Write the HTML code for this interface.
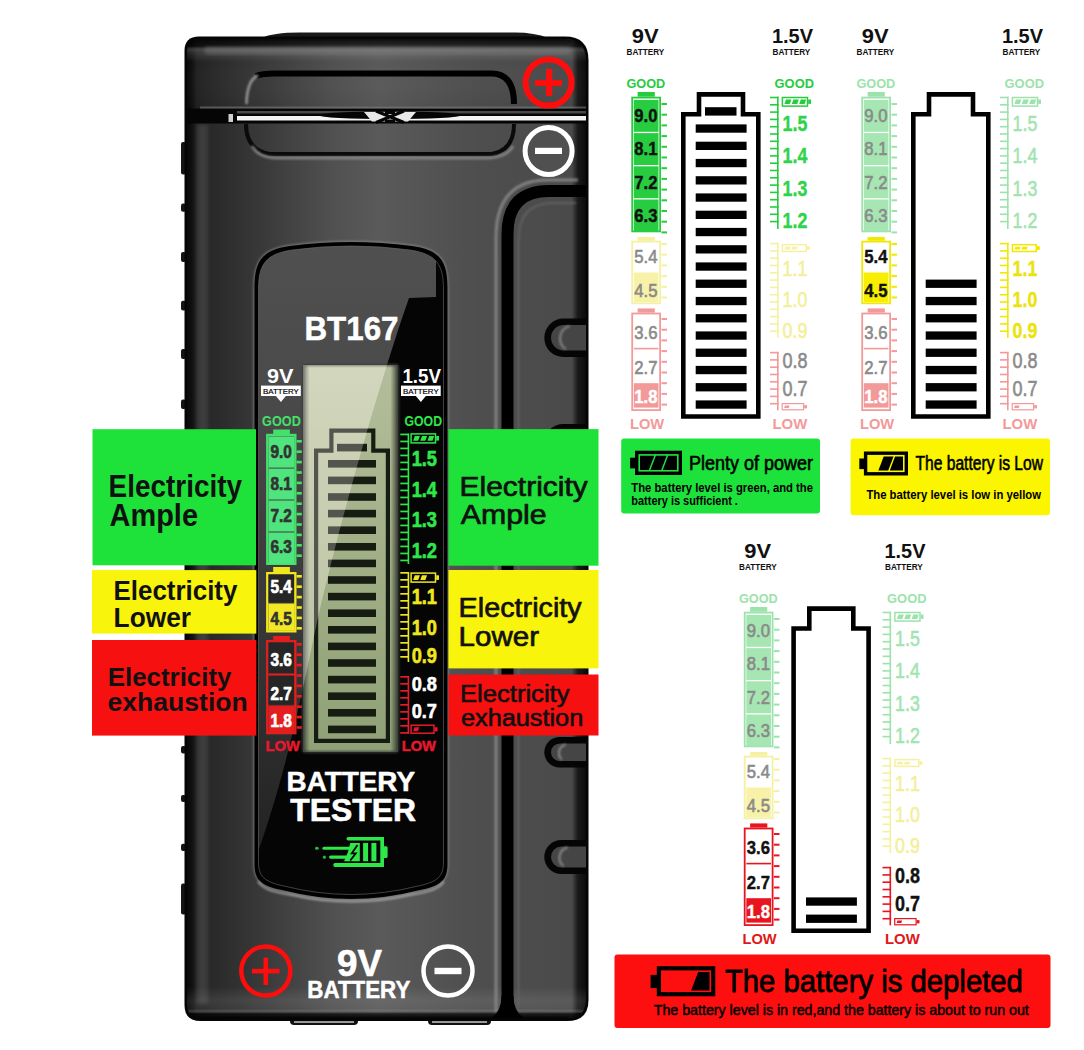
<!DOCTYPE html>
<html><head><meta charset="utf-8"><title>BT167 Battery Tester</title>
<style>html,body{margin:0;padding:0;background:#fff;}body{width:1084px;height:1050px;overflow:hidden;font-family:"Liberation Sans",sans-serif;}svg{display:block;}</style>
</head><body>
<svg width="1084" height="1050" viewBox="0 0 1084 1050" font-family="Liberation Sans, sans-serif">
<defs>
<linearGradient id="bodyH" x1="0" x2="1" y1="0" y2="0">
 <stop offset="0" stop-color="#080808"/>
 <stop offset="0.012" stop-color="#101010"/>
 <stop offset="0.025" stop-color="#222"/>
 <stop offset="0.07" stop-color="#2a2a2a"/>
 <stop offset="0.18" stop-color="#383838"/>
 <stop offset="0.36" stop-color="#505050"/>
 <stop offset="0.48" stop-color="#5a5a5a"/>
 <stop offset="0.58" stop-color="#555"/>
 <stop offset="0.73" stop-color="#4e4e4e"/>
 <stop offset="0.963" stop-color="#4a4a4a"/>
 <stop offset="0.978" stop-color="#1a1a1a"/>
 <stop offset="1" stop-color="#0a0a0a"/>
</linearGradient>
<linearGradient id="capV" x1="0" x2="0" y1="0" y2="1">
 <stop offset="0" stop-color="#000" stop-opacity="0.9"/>
 <stop offset="0.12" stop-color="#000" stop-opacity="0.5"/>
 <stop offset="0.2" stop-color="#fff" stop-opacity="0.12"/>
 <stop offset="0.35" stop-color="#fff" stop-opacity="0.0"/>
 <stop offset="1" stop-color="#000" stop-opacity="0.05"/>
</linearGradient>
<linearGradient id="botV" x1="0" x2="0" y1="0" y2="1">
 <stop offset="0" stop-color="#000" stop-opacity="0"/>
 <stop offset="0.5" stop-color="#fff" stop-opacity="0.0"/>
 <stop offset="0.72" stop-color="#fff" stop-opacity="0.09"/>
 <stop offset="0.86" stop-color="#fff" stop-opacity="0.06"/>
 <stop offset="0.93" stop-color="#000" stop-opacity="0.6"/>
 <stop offset="1" stop-color="#000" stop-opacity="0.95"/>
</linearGradient>
<linearGradient id="lcdG" x1="0" x2="0" y1="0" y2="1">
 <stop offset="0" stop-color="#c6caae"/>
 <stop offset="0.5" stop-color="#b0b994"/>
 <stop offset="1" stop-color="#9aa882"/>
</linearGradient>
<linearGradient id="lcdEdge" x1="0" x2="1" y1="0" y2="0">
 <stop offset="0" stop-color="#3a3a3a" stop-opacity="0.9"/>
 <stop offset="0.07" stop-color="#3a3a3a" stop-opacity="0.0"/>
 <stop offset="0.92" stop-color="#2a2a2a" stop-opacity="0.0"/>
 <stop offset="1" stop-color="#2a2a2a" stop-opacity="0.9"/>
</linearGradient>
<linearGradient id="dispGray" x1="0" x2="0" y1="0" y2="1">
 <stop offset="0" stop-color="#505050"/>
 <stop offset="0.25" stop-color="#4a4a4a"/>
 <stop offset="0.6" stop-color="#383838"/>
 <stop offset="1" stop-color="#222"/>
</linearGradient>
<filter id="blur1" x="-20%" y="-20%" width="140%" height="140%"><feGaussianBlur stdDeviation="1"/></filter>
<filter id="blur2" x="-20%" y="-20%" width="140%" height="140%"><feGaussianBlur stdDeviation="2"/></filter>
<filter id="blur4" x="-20%" y="-20%" width="140%" height="140%"><feGaussianBlur stdDeviation="4"/></filter>
</defs>
<rect x="0.0" y="0.0" width="1084.0" height="1050.0" fill="#fff" />
<rect x="290" y="1014" width="68" height="11" rx="4" fill="#111"/>
<rect x="294" y="1021" width="60" height="2" fill="#9a9a9a"/>
<rect x="428" y="1014" width="63" height="11" rx="4" fill="#111"/>
<rect x="432" y="1021" width="55" height="2" fill="#9a9a9a"/>
<rect x="181" y="142" width="5" height="32.5" rx="2" fill="#151515"/>
<rect x="181" y="203.6" width="5" height="8.099999999999994" rx="2" fill="#151515"/>
<rect x="181" y="252" width="5" height="10" rx="2" fill="#151515"/>
<rect x="181" y="300.8" width="5" height="9.699999999999989" rx="2" fill="#151515"/>
<rect x="181" y="349" width="5" height="10" rx="2" fill="#151515"/>
<rect x="181" y="399.5" width="5" height="9.5" rx="2" fill="#151515"/>
<rect x="181" y="746" width="5" height="7.600000000000023" rx="2" fill="#151515"/>
<rect x="181" y="795" width="5" height="7" rx="2" fill="#151515"/>
<rect x="181" y="843.7" width="5" height="7.2999999999999545" rx="2" fill="#151515"/>
<rect x="181" y="883.5" width="5" height="31.0" rx="2" fill="#151515"/>
<path d="M262,38 Q272,32.5 300,32.5 H515 Q535,32.5 548,38 Z" fill="#1a1a1a"/>
<path d="M184.5,51 Q184.5,36.5 199,36.5 H565 Q588.5,36.5 588.5,60 V1000 Q588.5,1021 567.5,1021 H200.5 Q184.5,1021 184.5,1005 Z" fill="#050505"/>
<clipPath id="bclip"><path d="M187,52 Q187,39 200,39 H564 Q586,39 586,61 V999 Q586,1018 567,1018 H201 Q187,1018 187,1004 Z"/></clipPath>
<g clip-path="url(#bclip)">
<rect x="187" y="38" width="399.5" height="980" fill="url(#bodyH)"/>
<rect x="197" y="124" width="11" height="880" fill="#6a6a6a" opacity="0.35" filter="url(#blur2)"/>
<path d="M187,38 H586 V107 H187 Z" fill="url(#capV)"/>
<rect x="205" y="47" width="365" height="7" fill="#7a7a7a" opacity="0.55" filter="url(#blur2)"/>
<rect x="187" y="955" width="399.5" height="63" fill="url(#botV)"/>
<path d="M256,76 Q262,73.5 275,73.5 H492 Q514,74 514,104" fill="none" stroke="#000" stroke-width="6"/>
<path d="M258,75.5 Q247,80 246.5,104" fill="none" stroke="#9a9a9a" stroke-width="2.5" filter="url(#blur1)"/>
<path d="M246,124 Q246,150 270,154 H492 Q514,150 514,124" fill="none" stroke="#0a0a0a" stroke-width="4"/>
<path d="M252,146 Q258,157 275,158 H490 Q508,156 513,146" fill="none" stroke="#8a8a8a" stroke-width="2.5" filter="url(#blur1)"/>
<rect x="185.0" y="108.5" width="404.0" height="15.0" fill="#050505" />
<rect x="200.0" y="106.5" width="386.0" height="2.0" fill="#7a7a7a" opacity="0.6"/>
<rect x="237.0" y="116.0" width="352.0" height="4.5" fill="#f4f4f4" />
<rect x="237.0" y="111.0" width="352.0" height="2.5" fill="#5a5a5a" opacity="0.8"/>
<ellipse cx="390" cy="115.2" rx="71.5" ry="3.8" fill="#050505"/>
<path d="M364,112 H416 L408,121.5 H372 Z" fill="#e8e8e8"/>
<path d="M376,111 L404,122.5 M404,111 L376,122.5" stroke="#050505" stroke-width="3"/>
<rect x="385.0" y="111.0" width="10.0" height="3.0" fill="#050505" />
<rect x="385.0" y="119.5" width="10.0" height="3.0" fill="#050505" />
<rect x="228.5" y="114.0" width="4.5" height="8.0" fill="#cfcfcf" />
<circle cx="548.6" cy="82.5" r="23" fill="none" stroke="#ff0d0d" stroke-width="6"/>
<rect x="535.0" y="80.1" width="27.0" height="5.8" fill="#ff0d0d" />
<rect x="546.0" y="69.0" width="6.3" height="27.0" fill="#ff0d0d" />
<circle cx="548.6" cy="151" r="23.5" fill="#505050" stroke="#fff" stroke-width="5"/>
<rect x="535.0" y="147.8" width="27.0" height="6.2" fill="#fff" />
<path d="M496,1012 V238 Q496,180 548,180 H578" fill="none" stroke="#8c8c8c" stroke-width="3" opacity="0.85" filter="url(#blur1)"/>
<path d="M507.5,1019 V234 Q507.5,191 549,191 H587" fill="none" stroke="#000" stroke-width="12"/>
<path d="M518.5,1008 V240 Q518.5,203 553,203 H576" fill="none" stroke="#666" stroke-width="2" opacity="0.8" filter="url(#blur1)"/>
<path d="M589,318.6 H563.5 A19.2,19.2 0 0 0 563.5,357 H589 Z" fill="#050505"/>
<path d="M589,325.1 H563.7 A12.7,12.7 0 0 0 563.7,350.5 H589 Z" fill="#454545"/>
<path d="M569.7,326.1 A12.7,12.7 0 0 0 565.7,349 " fill="none" stroke="#8a8a8a" stroke-width="2" filter="url(#blur1)"/>
<polygon points="587,318.1 590,318.1 590,322.6" fill="#fff"/>
<polygon points="587,357.5 590,357.5 590,353" fill="#fff"/>
<path d="M589,424 H563.3 A19.0,19.0 0 0 0 563.3,462 H589 Z" fill="#050505"/>
<path d="M589,430.5 H563.5 A12.5,12.5 0 0 0 563.5,455.5 H589 Z" fill="#454545"/>
<path d="M569.5,431.5 A12.5,12.5 0 0 0 565.5,454 " fill="none" stroke="#8a8a8a" stroke-width="2" filter="url(#blur1)"/>
<polygon points="587,423.5 590,423.5 590,428" fill="#fff"/>
<polygon points="587,462.5 590,462.5 590,458" fill="#fff"/>
<path d="M589,737 H559.6 A15.3,15.3 0 0 0 559.6,767.6 H589 Z" fill="#050505"/>
<path d="M589,743.5 H559.8 A8.8,8.8 0 0 0 559.8,761.1 H589 Z" fill="#454545"/>
<path d="M565.8,744.5 A8.8,8.8 0 0 0 561.8,759.6 " fill="none" stroke="#8a8a8a" stroke-width="2" filter="url(#blur1)"/>
<polygon points="587,736.5 590,736.5 590,741" fill="#fff"/>
<polygon points="587,768.1 590,768.1 590,763.6" fill="#fff"/>
<path d="M589,840 H561.3 A17.0,17.0 0 0 0 561.3,874 H589 Z" fill="#050505"/>
<path d="M589,846.5 H561.5 A10.5,10.5 0 0 0 561.5,867.5 H589 Z" fill="#454545"/>
<path d="M567.5,847.5 A10.5,10.5 0 0 0 563.5,866 " fill="none" stroke="#8a8a8a" stroke-width="2" filter="url(#blur1)"/>
<polygon points="587,839.5 590,839.5 590,844" fill="#fff"/>
<polygon points="587,874.5 590,874.5 590,870" fill="#fff"/>
<path d="M501.5,996 Q501.5,1012 490,1019 H525 Q513.5,1012 513.5,996 Z" fill="#000"/>
</g>
<circle cx="265.8" cy="971" r="24.5" fill="none" stroke="#ff0d0d" stroke-width="4.5"/>
<rect x="252.0" y="968.8" width="27.5" height="4.6" fill="#ff0d0d" />
<rect x="263.5" y="957.5" width="4.6" height="27.5" fill="#ff0d0d" />
<circle cx="448" cy="971" r="24.5" fill="none" stroke="#fff" stroke-width="4.5"/>
<rect x="434.5" y="967.8" width="27.0" height="6.4" fill="#fff" />
<text x="337.0" y="975.5" font-size="36" fill="#fff" stroke="#fff" stroke-width="0.6" stroke-linejoin="round" font-weight="bold" textLength="45.0" lengthAdjust="spacingAndGlyphs">9V</text>
<text x="307.3" y="998.0" font-size="23" fill="#fff" stroke="#fff" stroke-width="0.5" stroke-linejoin="round" font-weight="bold" textLength="103.0" lengthAdjust="spacingAndGlyphs">BATTERY</text>
<path d="M254.5,288 C254.5,262 261,250 290,246 Q351,238 412,246 C441,250 447.5,262 447.5,288 V864 C447.5,880 441,886 420,890 Q351,908 282,890 C261,886 254.5,880 254.5,864 Z" fill="none" stroke="#8a8a8a" stroke-width="2.5" opacity="0.7" filter="url(#blur1)"/>
<path d="M254.5,288 C254.5,262 261,250 290,246 Q351,238 412,246 C441,250 447.5,262 447.5,288 V864 C447.5,880 441,886 420,890 Q351,908 282,890 C261,886 254.5,880 254.5,864 Z" fill="#000"/>
<clipPath id="dclip"><path d="M258.5,290 C258.5,265 265,254 292,250 Q351,242 410,250 C437,254 443.5,265 443.5,290 V862 C443.5,876 438,882 418,886 Q351,903 284,886 C264,882 258.5,876 258.5,862 Z"/></clipPath>
<g clip-path="url(#dclip)">
<rect x="250" y="240" width="200" height="670" fill="#050505"/>
<path d="M250,240 H436 V297 L409,298 C385,365 340,520 317,622 C305,680 285,780 255,860 H250 Z" fill="url(#dispGray)"/>
</g>
<path d="M258.5,290 C258.5,265 265,254 292,250 Q351,242 410,250 C437,254 443.5,265 443.5,290 V862 C443.5,876 438,882 418,886 Q351,903 284,886 C264,882 258.5,876 258.5,862 Z" fill="none" stroke="#6a6a6a" stroke-width="1" opacity="0.6"/>
<path d="M258,880 C264,888 272,890 290,893 Q351,907 412,893 C430,890 438,888 444,880" fill="none" stroke="#b5b5b5" stroke-width="2" opacity="0.85" transform="translate(0,1.5)" filter="url(#blur1)"/>
<rect x="303" y="365" width="95" height="387" fill="url(#lcdG)"/>
<rect x="303" y="365" width="95" height="387" fill="url(#lcdEdge)"/>
<rect x="303" y="365" width="95" height="387" rx="3" fill="none" stroke="#3a3a3a" stroke-width="2" filter="url(#blur1)"/>
<clipPath id="lclip"><rect x="303" y="365" width="95" height="387"/></clipPath>
<g clip-path="url(#lclip)">
<path d="M316.1,740.8 V450.7 H331.4 V430.7 H373.3 V450.7 H387.9 V740.8 Z" fill="none" stroke="#0a0a0a" stroke-width="4.2"/>
<rect x="337.0" y="443.8" width="30.0" height="7.6" fill="#0a0a0a" />
<rect x="328.0" y="460.0" width="48.0" height="7.6" fill="#0a0a0a" />
<rect x="328.0" y="476.6" width="48.0" height="7.6" fill="#0a0a0a" />
<rect x="328.0" y="493.2" width="48.0" height="7.6" fill="#0a0a0a" />
<rect x="328.0" y="509.8" width="48.0" height="7.6" fill="#0a0a0a" />
<rect x="328.0" y="526.4" width="48.0" height="7.6" fill="#0a0a0a" />
<rect x="328.0" y="543.0" width="48.0" height="7.6" fill="#0a0a0a" />
<rect x="328.0" y="559.6" width="48.0" height="7.6" fill="#0a0a0a" />
<rect x="328.0" y="576.2" width="48.0" height="7.6" fill="#0a0a0a" />
<rect x="328.0" y="592.8" width="48.0" height="7.6" fill="#0a0a0a" />
<rect x="328.0" y="609.4" width="48.0" height="7.6" fill="#0a0a0a" />
<rect x="328.0" y="626.0" width="48.0" height="7.6" fill="#0a0a0a" />
<rect x="328.0" y="642.6" width="48.0" height="7.6" fill="#0a0a0a" />
<rect x="328.0" y="659.2" width="48.0" height="7.6" fill="#0a0a0a" />
<rect x="328.0" y="675.8" width="48.0" height="7.6" fill="#0a0a0a" />
<rect x="328.0" y="692.4" width="48.0" height="7.6" fill="#0a0a0a" />
<rect x="328.0" y="709.0" width="48.0" height="7.6" fill="#0a0a0a" />
<rect x="328.0" y="725.6" width="48.0" height="7.6" fill="#0a0a0a" />
<path d="M300,298 L409,298 C385,365 340,520 317,622 C305,680 285,780 255,860 H300 Z" fill="#eef0de" opacity="0.33"/>
<path d="M409,298 C385,365 340,520 317,622 C305,680 285,780 255,860 H400 V298 Z" fill="#5a7a40" opacity="0.16"/>
</g>
<text x="304.5" y="339.5" font-size="32.5" fill="#fff" stroke="#fff" stroke-width="0.5" stroke-linejoin="round" font-weight="bold" textLength="94.0" lengthAdjust="spacingAndGlyphs">BT167</text>
<text x="267.0" y="382.5" font-size="20" fill="#fff" font-weight="bold" textLength="26.5" lengthAdjust="spacingAndGlyphs">9V</text>
<text x="402.4" y="382.5" font-size="20" fill="#fff" font-weight="bold" textLength="38.6" lengthAdjust="spacingAndGlyphs">1.5V</text>
<rect x="261.0" y="385.6" width="39.8" height="10.4" fill="#fff" />
<polygon points="275.9,396 285.9,396 280.9,402" fill="#fff"/>
<text x="263.0" y="394.3" font-size="8" fill="#000" stroke="#000" stroke-width="0.2" stroke-linejoin="round" textLength="35.8" lengthAdjust="spacingAndGlyphs">BATTERY</text>
<rect x="401.0" y="385.6" width="39.7" height="10.4" fill="#fff" />
<polygon points="415.85,396 425.85,396 420.85,402" fill="#fff"/>
<text x="403.0" y="394.3" font-size="8" fill="#000" stroke="#000" stroke-width="0.2" stroke-linejoin="round" textLength="35.7" lengthAdjust="spacingAndGlyphs">BATTERY</text>
<text x="262.0" y="426.0" font-size="14" fill="#45e06a" font-weight="bold" textLength="38.8" lengthAdjust="spacingAndGlyphs">GOOD</text>
<text x="404.5" y="426.0" font-size="14" fill="#2ee84a" font-weight="bold" textLength="37.5" lengthAdjust="spacingAndGlyphs">GOOD</text>
<rect x="273.2" y="429.5" width="16.7" height="5.3" fill="#45e06a" />
<rect x="267.3" y="435.0" width="28" height="128.8" fill="none" stroke="#45e06a" stroke-width="2.4"/>
<rect x="268.5" y="436.5" width="25.6" height="31.1" fill="#4fe47e" />
<text x="270.4" y="457.6" font-size="18" fill="#333" stroke="#333" stroke-width="0.7" stroke-linejoin="round" font-weight="bold" textLength="21.4" lengthAdjust="spacingAndGlyphs">9.0</text>
<rect x="268.5" y="468.6" width="25.6" height="30.9" fill="#4fe47e" />
<text x="270.4" y="489.8" font-size="18" fill="#333" stroke="#333" stroke-width="0.7" stroke-linejoin="round" font-weight="bold" textLength="21.4" lengthAdjust="spacingAndGlyphs">8.1</text>
<rect x="268.5" y="500.5" width="25.6" height="31.0" fill="#4fe47e" />
<text x="270.4" y="521.8" font-size="18" fill="#333" stroke="#333" stroke-width="0.7" stroke-linejoin="round" font-weight="bold" textLength="21.4" lengthAdjust="spacingAndGlyphs">7.2</text>
<rect x="268.5" y="532.5" width="25.6" height="31.0" fill="#4fe47e" />
<text x="270.4" y="553.0" font-size="18" fill="#333" stroke="#333" stroke-width="0.7" stroke-linejoin="round" font-weight="bold" textLength="21.4" lengthAdjust="spacingAndGlyphs">6.3</text>
<rect x="296.6" y="440.0" width="5.2" height="2.6" fill="#45e06a" />
<rect x="296.6" y="450.4" width="5.2" height="2.6" fill="#45e06a" />
<rect x="296.6" y="460.8" width="5.2" height="2.6" fill="#45e06a" />
<rect x="296.6" y="471.2" width="5.2" height="2.6" fill="#45e06a" />
<rect x="296.6" y="481.6" width="5.2" height="2.6" fill="#45e06a" />
<rect x="296.6" y="492.0" width="5.2" height="2.6" fill="#45e06a" />
<rect x="296.6" y="502.4" width="5.2" height="2.6" fill="#45e06a" />
<rect x="296.6" y="512.8" width="5.2" height="2.6" fill="#45e06a" />
<rect x="296.6" y="523.2" width="5.2" height="2.6" fill="#45e06a" />
<rect x="296.6" y="533.6" width="5.2" height="2.6" fill="#45e06a" />
<rect x="296.6" y="544.0" width="5.2" height="2.6" fill="#45e06a" />
<rect x="296.6" y="554.4" width="5.2" height="2.6" fill="#45e06a" />
<rect x="273.2" y="567.0" width="16.7" height="6.0" fill="#f0e61e" />
<rect x="267.3" y="573.2" width="28" height="58.1" fill="none" stroke="#f0e61e" stroke-width="2.4"/>
<rect x="268.5" y="574.5" width="25.6" height="28.0" fill="#262626" />
<text x="270.4" y="593.0" font-size="18" fill="#fff" stroke="#fff" stroke-width="0.7" stroke-linejoin="round" font-weight="bold" textLength="21.4" lengthAdjust="spacingAndGlyphs">5.4</text>
<rect x="268.5" y="603.5" width="25.6" height="26.5" fill="#f2e826" />
<text x="270.4" y="625.0" font-size="18" fill="#333" stroke="#333" stroke-width="0.7" stroke-linejoin="round" font-weight="bold" textLength="21.4" lengthAdjust="spacingAndGlyphs">4.5</text>
<rect x="296.6" y="575.0" width="5.2" height="2.6" fill="#f0e61e" />
<rect x="296.6" y="585.4" width="5.2" height="2.6" fill="#f0e61e" />
<rect x="296.6" y="595.8" width="5.2" height="2.6" fill="#f0e61e" />
<rect x="296.6" y="606.2" width="5.2" height="2.6" fill="#f0e61e" />
<rect x="296.6" y="616.6" width="5.2" height="2.6" fill="#f0e61e" />
<rect x="296.6" y="627.0" width="5.2" height="2.6" fill="#f0e61e" />
<rect x="273.2" y="636.0" width="16.7" height="5.0" fill="#e41e1e" />
<rect x="267.3" y="641.2" width="28" height="91.9" fill="none" stroke="#e41e1e" stroke-width="2.4"/>
<rect x="268.5" y="642.5" width="25.6" height="31.0" fill="#262626" />
<text x="270.4" y="666.0" font-size="18" fill="#fff" stroke="#fff" stroke-width="0.7" stroke-linejoin="round" font-weight="bold" textLength="21.4" lengthAdjust="spacingAndGlyphs">3.6</text>
<rect x="268.5" y="675.5" width="25.6" height="29.0" fill="#262626" />
<text x="270.4" y="699.5" font-size="18" fill="#fff" stroke="#fff" stroke-width="0.7" stroke-linejoin="round" font-weight="bold" textLength="21.4" lengthAdjust="spacingAndGlyphs">2.7</text>
<rect x="268.5" y="705.5" width="25.6" height="26.5" fill="#e41e1e" />
<text x="270.4" y="727.0" font-size="18" fill="#fff" stroke="#fff" stroke-width="0.7" stroke-linejoin="round" font-weight="bold" textLength="21.4" lengthAdjust="spacingAndGlyphs">1.8</text>
<rect x="296.6" y="643.0" width="5.2" height="2.6" fill="#e41e1e" />
<rect x="296.6" y="653.4" width="5.2" height="2.6" fill="#e41e1e" />
<rect x="296.6" y="663.8" width="5.2" height="2.6" fill="#e41e1e" />
<rect x="296.6" y="674.2" width="5.2" height="2.6" fill="#e41e1e" />
<rect x="296.6" y="684.6" width="5.2" height="2.6" fill="#e41e1e" />
<rect x="296.6" y="695.0" width="5.2" height="2.6" fill="#e41e1e" />
<rect x="296.6" y="705.4" width="5.2" height="2.6" fill="#e41e1e" />
<rect x="296.6" y="715.8" width="5.2" height="2.6" fill="#e41e1e" />
<rect x="296.6" y="726.2" width="5.2" height="2.6" fill="#e41e1e" />
<rect x="268.5" y="673.5" width="25.6" height="2.0" fill="#e41e1e" />
<text x="265.5" y="751.4" font-size="14.5" fill="#e8192c" stroke="#e8192c" stroke-width="0.5" stroke-linejoin="round" font-weight="bold" textLength="34.3" lengthAdjust="spacingAndGlyphs">LOW</text>
<rect x="407.6" y="433.6" width="1.6" height="130.4" fill="#2ee84a"/>
<rect x="400.3" y="433.6" width="8.7" height="1.7" fill="#2ee84a" />
<rect x="400.3" y="440.6" width="8.7" height="1.7" fill="#2ee84a" />
<rect x="400.3" y="447.6" width="8.7" height="1.7" fill="#2ee84a" />
<rect x="400.3" y="454.6" width="8.7" height="1.7" fill="#2ee84a" />
<rect x="400.3" y="461.6" width="8.7" height="1.7" fill="#2ee84a" />
<rect x="400.3" y="468.6" width="8.7" height="1.7" fill="#2ee84a" />
<rect x="400.3" y="475.6" width="8.7" height="1.7" fill="#2ee84a" />
<rect x="400.3" y="482.6" width="8.7" height="1.7" fill="#2ee84a" />
<rect x="400.3" y="489.6" width="8.7" height="1.7" fill="#2ee84a" />
<rect x="400.3" y="496.6" width="8.7" height="1.7" fill="#2ee84a" />
<rect x="400.3" y="503.6" width="8.7" height="1.7" fill="#2ee84a" />
<rect x="400.3" y="510.6" width="8.7" height="1.7" fill="#2ee84a" />
<rect x="400.3" y="517.6" width="8.7" height="1.7" fill="#2ee84a" />
<rect x="400.3" y="524.6" width="8.7" height="1.7" fill="#2ee84a" />
<rect x="400.3" y="531.6" width="8.7" height="1.7" fill="#2ee84a" />
<rect x="400.3" y="538.6" width="8.7" height="1.7" fill="#2ee84a" />
<rect x="400.3" y="545.6" width="8.7" height="1.7" fill="#2ee84a" />
<rect x="400.3" y="552.6" width="8.7" height="1.7" fill="#2ee84a" />
<rect x="400.3" y="559.6" width="8.7" height="1.7" fill="#2ee84a" />
<rect x="411.1" y="433.9" width="24.4" height="9.0" fill="none" stroke="#2ee84a" stroke-width="1.5"/>
<rect x="436.2" y="436.0" width="2.8" height="4.6" fill="#2ee84a" />
<polygon points="414.81,435.90 419.92,435.90 418.21,440.80 413.10,440.80" fill="#2ee84a"/>
<polygon points="421.98,435.90 427.09,435.90 425.38,440.80 420.27,440.80" fill="#2ee84a"/>
<polygon points="429.15,435.90 434.26,435.90 432.54,440.80 427.43,440.80" fill="#2ee84a"/>
<text x="411.7" y="466.4" font-size="21.5" fill="#2ee84a" stroke="#2ee84a" stroke-width="0.6" stroke-linejoin="round" font-weight="bold" textLength="25.3" lengthAdjust="spacingAndGlyphs">1.5</text>
<text x="411.7" y="496.9" font-size="21.5" fill="#2ee84a" stroke="#2ee84a" stroke-width="0.6" stroke-linejoin="round" font-weight="bold" textLength="25.3" lengthAdjust="spacingAndGlyphs">1.4</text>
<text x="411.7" y="527.4" font-size="21.5" fill="#2ee84a" stroke="#2ee84a" stroke-width="0.6" stroke-linejoin="round" font-weight="bold" textLength="25.3" lengthAdjust="spacingAndGlyphs">1.3</text>
<text x="411.7" y="557.9" font-size="21.5" fill="#2ee84a" stroke="#2ee84a" stroke-width="0.6" stroke-linejoin="round" font-weight="bold" textLength="25.3" lengthAdjust="spacingAndGlyphs">1.2</text>
<rect x="407.6" y="572" width="1.6" height="90.0" fill="#f0e620"/>
<rect x="400.3" y="572.0" width="8.7" height="1.7" fill="#f0e620" />
<rect x="400.3" y="579.0" width="8.7" height="1.7" fill="#f0e620" />
<rect x="400.3" y="586.0" width="8.7" height="1.7" fill="#f0e620" />
<rect x="400.3" y="593.0" width="8.7" height="1.7" fill="#f0e620" />
<rect x="400.3" y="600.0" width="8.7" height="1.7" fill="#f0e620" />
<rect x="400.3" y="607.0" width="8.7" height="1.7" fill="#f0e620" />
<rect x="400.3" y="614.0" width="8.7" height="1.7" fill="#f0e620" />
<rect x="400.3" y="621.0" width="8.7" height="1.7" fill="#f0e620" />
<rect x="400.3" y="628.0" width="8.7" height="1.7" fill="#f0e620" />
<rect x="400.3" y="635.0" width="8.7" height="1.7" fill="#f0e620" />
<rect x="400.3" y="642.0" width="8.7" height="1.7" fill="#f0e620" />
<rect x="400.3" y="649.0" width="8.7" height="1.7" fill="#f0e620" />
<rect x="400.3" y="656.0" width="8.7" height="1.7" fill="#f0e620" />
<rect x="411.1" y="573.1" width="24.4" height="9.0" fill="none" stroke="#f0e620" stroke-width="1.5"/>
<rect x="436.2" y="575.3" width="2.8" height="4.6" fill="#f0e620" />
<polygon points="414.82,575.20 419.92,575.20 418.21,580.10 413.10,580.10" fill="#f0e620"/>
<polygon points="421.98,575.20 427.09,575.20 425.38,580.10 420.27,580.10" fill="#f0e620"/>
<text x="411.7" y="603.8" font-size="21.5" fill="#f0e620" stroke="#f0e620" stroke-width="0.6" stroke-linejoin="round" font-weight="bold" textLength="25.3" lengthAdjust="spacingAndGlyphs">1.1</text>
<text x="411.7" y="635.2" font-size="21.5" fill="#f0e620" stroke="#f0e620" stroke-width="0.6" stroke-linejoin="round" font-weight="bold" textLength="25.3" lengthAdjust="spacingAndGlyphs">1.0</text>
<text x="411.7" y="662.9" font-size="21.5" fill="#f0e620" stroke="#f0e620" stroke-width="0.6" stroke-linejoin="round" font-weight="bold" textLength="25.3" lengthAdjust="spacingAndGlyphs">0.9</text>
<rect x="407.6" y="676" width="1.6" height="58.0" fill="#e8192c"/>
<rect x="400.3" y="676.0" width="8.7" height="1.7" fill="#e8192c" />
<rect x="400.3" y="683.0" width="8.7" height="1.7" fill="#e8192c" />
<rect x="400.3" y="690.0" width="8.7" height="1.7" fill="#e8192c" />
<rect x="400.3" y="697.0" width="8.7" height="1.7" fill="#e8192c" />
<rect x="400.3" y="704.0" width="8.7" height="1.7" fill="#e8192c" />
<rect x="400.3" y="711.0" width="8.7" height="1.7" fill="#e8192c" />
<rect x="400.3" y="718.0" width="8.7" height="1.7" fill="#e8192c" />
<rect x="400.3" y="725.0" width="8.7" height="1.7" fill="#e8192c" />
<rect x="400.3" y="732.0" width="8.7" height="1.7" fill="#e8192c" />
<rect x="411.1" y="725.2" width="22.9" height="8.0" fill="none" stroke="#e8192c" stroke-width="1.5"/>
<rect x="434.7" y="727.2" width="2.8" height="4.2" fill="#e8192c" />
<polygon points="414.47,727.30 419.25,727.30 417.88,731.20 413.10,731.20" fill="#e8192c"/>
<text x="411.7" y="690.5" font-size="20" fill="#fff" stroke="#fff" stroke-width="0.6" stroke-linejoin="round" font-weight="bold" textLength="25.3" lengthAdjust="spacingAndGlyphs">0.8</text>
<text x="411.7" y="718.0" font-size="20" fill="#fff" stroke="#fff" stroke-width="0.6" stroke-linejoin="round" font-weight="bold" textLength="25.3" lengthAdjust="spacingAndGlyphs">0.7</text>
<text x="401.7" y="751.4" font-size="14.5" fill="#e8192c" stroke="#e8192c" stroke-width="0.5" stroke-linejoin="round" font-weight="bold" textLength="34.3" lengthAdjust="spacingAndGlyphs">LOW</text>
<text x="286.5" y="790.7" font-size="28" fill="#fff" stroke="#fff" stroke-width="0.5" stroke-linejoin="round" font-weight="bold" textLength="128.5" lengthAdjust="spacingAndGlyphs">BATTERY</text>
<text x="290.3" y="821.2" font-size="31" fill="#fff" stroke="#fff" stroke-width="0.6" stroke-linejoin="round" font-weight="bold" textLength="125.7" lengthAdjust="spacingAndGlyphs">TESTER</text>
<rect x="346.5" y="837" width="37.5" height="3.5" rx="1.7" fill="#2ee84a"/>
<rect x="380.3" y="837.0" width="3.7" height="30.0" fill="#2ee84a" />
<rect x="383" y="846.3" width="4.6" height="11.7" rx="1.5" fill="#2ee84a"/>
<rect x="333.2" y="863" width="50.8" height="4" rx="2" fill="#2ee84a"/>
<polygon points="350.3,843 359.8,843 359.8,861.2 344,861.2 348,852" fill="#2ee84a"/>
<path d="M357.5,845 L351.8,853.3 L355.8,853.3 L350.3,860.5" fill="none" stroke="#000" stroke-width="1.8"/>
<rect x="363.1" y="843.0" width="5.0" height="18.2" fill="#2ee84a" />
<rect x="371.4" y="843.0" width="5.0" height="18.2" fill="#2ee84a" />
<rect x="322.4" y="846.7" width="29" height="3" rx="1.5" fill="#2ee84a"/>
<rect x="315" y="846.7" width="3.7" height="3" rx="1.5" fill="#2ee84a" opacity="0.8"/>
<rect x="329" y="855.4" width="19.2" height="3.3" rx="1.6" fill="#2ee84a"/>
<rect x="322.9" y="855.4" width="3" height="3.3" rx="1.5" fill="#2ee84a" opacity="0.8"/>
<rect x="92.5" y="429.2" width="163.5" height="136.1" fill="#1ee23a" />
<rect x="92.0" y="570.1" width="164.3" height="63.5" fill="#f9f40c" />
<rect x="92.0" y="640.0" width="164.3" height="95.6" fill="#f61010" />
<rect x="448.5" y="429.1" width="150.0" height="136.6" fill="#1ee23a" />
<rect x="448.5" y="570.0" width="150.0" height="98.4" fill="#f9f40c" />
<rect x="448.5" y="674.5" width="150.0" height="61.0" fill="#f61010" />
<text x="108.6" y="496.7" font-size="31" fill="#111" font-weight="bold" textLength="133.4" lengthAdjust="spacingAndGlyphs">Electricity</text>
<text x="109.5" y="526.3" font-size="31" fill="#111" font-weight="bold" textLength="88.5" lengthAdjust="spacingAndGlyphs">Ample</text>
<text x="113.6" y="600.1" font-size="27" fill="#111" font-weight="bold" textLength="123.8" lengthAdjust="spacingAndGlyphs">Electricity</text>
<text x="113.6" y="626.7" font-size="27" fill="#111" font-weight="bold" textLength="77.4" lengthAdjust="spacingAndGlyphs">Lower</text>
<text x="107.8" y="685.9" font-size="25" fill="#111" font-weight="bold" textLength="123.6" lengthAdjust="spacingAndGlyphs">Electricity</text>
<text x="107.6" y="710.7" font-size="25" fill="#111" font-weight="bold" textLength="140.1" lengthAdjust="spacingAndGlyphs">exhaustion</text>
<text x="459.5" y="496.2" font-size="27.5" fill="#111" stroke="#111" stroke-width="0.7" stroke-linejoin="round" textLength="128.3" lengthAdjust="spacingAndGlyphs">Electricity</text>
<text x="460.8" y="523.6" font-size="27.5" fill="#111" stroke="#111" stroke-width="0.7" stroke-linejoin="round" textLength="85.9" lengthAdjust="spacingAndGlyphs">Ample</text>
<text x="458.6" y="616.6" font-size="27.5" fill="#111" stroke="#111" stroke-width="0.7" stroke-linejoin="round" textLength="123.1" lengthAdjust="spacingAndGlyphs">Electricity</text>
<text x="458.6" y="645.5" font-size="27.5" fill="#111" stroke="#111" stroke-width="0.7" stroke-linejoin="round" textLength="80.4" lengthAdjust="spacingAndGlyphs">Lower</text>
<text x="460.0" y="702.0" font-size="23" fill="#111" stroke="#111" stroke-width="0.6" stroke-linejoin="round" textLength="109.5" lengthAdjust="spacingAndGlyphs">Electricity</text>
<text x="461.0" y="726.3" font-size="23" fill="#111" stroke="#111" stroke-width="0.6" stroke-linejoin="round" textLength="122.2" lengthAdjust="spacingAndGlyphs">exhaustion</text>
<text x="631.8" y="42.7" font-size="20.5" fill="#111" font-weight="bold" textLength="26.8" lengthAdjust="spacingAndGlyphs">9V</text>
<text x="626.5" y="55.2" font-size="9" fill="#111" font-weight="bold" textLength="37.7" lengthAdjust="spacingAndGlyphs">BATTERY</text>
<text x="772.0" y="42.7" font-size="20.5" fill="#111" font-weight="bold" textLength="41.0" lengthAdjust="spacingAndGlyphs">1.5V</text>
<text x="772.5" y="55.2" font-size="9" fill="#111" font-weight="bold" textLength="37.8" lengthAdjust="spacingAndGlyphs">BATTERY</text>
<text x="626.5" y="87.9" font-size="12.5" fill="#25cc3e" font-weight="bold" textLength="38.8" lengthAdjust="spacingAndGlyphs">GOOD</text>
<text x="774.6" y="87.9" font-size="12.5" fill="#25cc3e" font-weight="bold" textLength="39.4" lengthAdjust="spacingAndGlyphs">GOOD</text>
<rect x="637.6" y="92.0" width="17.2" height="4.7" fill="#25cc3e" />
<rect x="632.2" y="97.6" width="27.9" height="133.8" fill="none" stroke="#25cc3e" stroke-width="1.8"/>
<rect x="633.8" y="99.9" width="24.7" height="31.9" fill="#27cc40" />
<text x="634.3" y="122.1" font-size="17.5" fill="#111" stroke="#111" stroke-width="0.4" stroke-linejoin="round" font-weight="bold" textLength="23.2" lengthAdjust="spacingAndGlyphs">9.0</text>
<rect x="633.8" y="133.1" width="24.7" height="31.9" fill="#27cc40" />
<text x="634.3" y="155.3" font-size="17.5" fill="#111" stroke="#111" stroke-width="0.4" stroke-linejoin="round" font-weight="bold" textLength="23.2" lengthAdjust="spacingAndGlyphs">8.1</text>
<rect x="633.8" y="166.3" width="24.7" height="31.9" fill="#27cc40" />
<text x="634.3" y="188.5" font-size="17.5" fill="#111" stroke="#111" stroke-width="0.4" stroke-linejoin="round" font-weight="bold" textLength="23.2" lengthAdjust="spacingAndGlyphs">7.2</text>
<rect x="633.8" y="199.5" width="24.7" height="31.9" fill="#27cc40" />
<text x="634.3" y="221.7" font-size="17.5" fill="#111" stroke="#111" stroke-width="0.4" stroke-linejoin="round" font-weight="bold" textLength="23.2" lengthAdjust="spacingAndGlyphs">6.3</text>
<rect x="661.5" y="103.0" width="5.5" height="2.0" fill="#25cc3e" />
<rect x="661.5" y="113.7" width="5.5" height="2.0" fill="#25cc3e" />
<rect x="661.5" y="124.4" width="5.5" height="2.0" fill="#25cc3e" />
<rect x="661.5" y="135.1" width="5.5" height="2.0" fill="#25cc3e" />
<rect x="661.5" y="145.8" width="5.5" height="2.0" fill="#25cc3e" />
<rect x="661.5" y="156.5" width="5.5" height="2.0" fill="#25cc3e" />
<rect x="661.5" y="167.2" width="5.5" height="2.0" fill="#25cc3e" />
<rect x="661.5" y="177.9" width="5.5" height="2.0" fill="#25cc3e" />
<rect x="661.5" y="188.6" width="5.5" height="2.0" fill="#25cc3e" />
<rect x="661.5" y="199.3" width="5.5" height="2.0" fill="#25cc3e" />
<rect x="661.5" y="210.0" width="5.5" height="2.0" fill="#25cc3e" />
<rect x="661.5" y="220.7" width="5.5" height="2.0" fill="#25cc3e" />
<rect x="661.5" y="231.4" width="5.5" height="2.0" fill="#25cc3e" />
<rect x="637.6" y="237.0" width="17.2" height="3.7" fill="#f5f1a0" />
<rect x="632.2" y="241.6" width="27.9" height="61.7" fill="none" stroke="#f5f1a0" stroke-width="1.8"/>
<rect x="633.8" y="272.5" width="24.7" height="29.5" fill="#f7f2a8" />
<text x="634.3" y="263.4" font-size="17.5" fill="#8a8a8a" stroke="#8a8a8a" stroke-width="0.6" stroke-linejoin="round" textLength="23.2" lengthAdjust="spacingAndGlyphs">5.4</text>
<text x="634.3" y="296.6" font-size="17.5" fill="#8a8a8a" stroke="#8a8a8a" stroke-width="0.6" stroke-linejoin="round" textLength="23.2" lengthAdjust="spacingAndGlyphs">4.5</text>
<rect x="661.5" y="243.0" width="5.5" height="2.0" fill="#f5f1a0" />
<rect x="661.5" y="253.7" width="5.5" height="2.0" fill="#f5f1a0" />
<rect x="661.5" y="264.4" width="5.5" height="2.0" fill="#f5f1a0" />
<rect x="661.5" y="275.1" width="5.5" height="2.0" fill="#f5f1a0" />
<rect x="661.5" y="285.8" width="5.5" height="2.0" fill="#f5f1a0" />
<rect x="661.5" y="296.5" width="5.5" height="2.0" fill="#f5f1a0" />
<rect x="637.6" y="308.4" width="17.2" height="4.2" fill="#f29a9a" />
<rect x="632.2" y="313.5" width="27.9" height="96.6" fill="none" stroke="#f29a9a" stroke-width="1.8"/>
<rect x="633.8" y="347.8" width="24.7" height="1.6" fill="#f29a9a" />
<rect x="633.8" y="383.2" width="24.7" height="24.4" fill="#f29a9a" />
<text x="634.3" y="338.8" font-size="17.5" fill="#8a8a8a" stroke="#8a8a8a" stroke-width="0.6" stroke-linejoin="round" textLength="23.2" lengthAdjust="spacingAndGlyphs">3.6</text>
<text x="634.3" y="373.8" font-size="17.5" fill="#8a8a8a" stroke="#8a8a8a" stroke-width="0.6" stroke-linejoin="round" textLength="23.2" lengthAdjust="spacingAndGlyphs">2.7</text>
<text x="634.3" y="402.6" font-size="17.5" fill="#fff" stroke="#fff" stroke-width="0.4" stroke-linejoin="round" font-weight="bold" textLength="23.2" lengthAdjust="spacingAndGlyphs">1.8</text>
<rect x="661.5" y="318.0" width="5.5" height="2.0" fill="#f29a9a" />
<rect x="661.5" y="328.7" width="5.5" height="2.0" fill="#f29a9a" />
<rect x="661.5" y="339.4" width="5.5" height="2.0" fill="#f29a9a" />
<rect x="661.5" y="350.1" width="5.5" height="2.0" fill="#f29a9a" />
<rect x="661.5" y="360.8" width="5.5" height="2.0" fill="#f29a9a" />
<rect x="661.5" y="371.5" width="5.5" height="2.0" fill="#f29a9a" />
<rect x="661.5" y="382.2" width="5.5" height="2.0" fill="#f29a9a" />
<rect x="661.5" y="392.9" width="5.5" height="2.0" fill="#f29a9a" />
<rect x="661.5" y="403.6" width="5.5" height="2.0" fill="#f29a9a" />
<text x="630.0" y="429.3" font-size="14.5" fill="#f29a9a" font-weight="bold" textLength="34.2" lengthAdjust="spacingAndGlyphs">LOW</text>
<path d="M683.3,416.5 V114.3 H699 V94.4 H743 V114.3 H758.3 V416.5 Z" fill="none" stroke="#000" stroke-width="4.6"/>
<rect x="705.0" y="107.2" width="31.5" height="8.4" fill="#000" />
<rect x="695.7" y="124.4" width="50.9" height="8.3" fill="#000" />
<rect x="695.7" y="141.7" width="50.9" height="8.3" fill="#000" />
<rect x="695.7" y="158.9" width="50.9" height="8.3" fill="#000" />
<rect x="695.7" y="176.2" width="50.9" height="8.3" fill="#000" />
<rect x="695.7" y="193.4" width="50.9" height="8.3" fill="#000" />
<rect x="695.7" y="210.7" width="50.9" height="8.3" fill="#000" />
<rect x="695.7" y="227.9" width="50.9" height="8.3" fill="#000" />
<rect x="695.7" y="245.2" width="50.9" height="8.3" fill="#000" />
<rect x="695.7" y="262.4" width="50.9" height="8.3" fill="#000" />
<rect x="695.7" y="279.6" width="50.9" height="8.3" fill="#000" />
<rect x="695.7" y="296.9" width="50.9" height="8.3" fill="#000" />
<rect x="695.7" y="314.1" width="50.9" height="8.3" fill="#000" />
<rect x="695.7" y="331.4" width="50.9" height="8.3" fill="#000" />
<rect x="695.7" y="348.6" width="50.9" height="8.3" fill="#000" />
<rect x="695.7" y="365.9" width="50.9" height="8.3" fill="#000" />
<rect x="695.7" y="383.1" width="50.9" height="8.3" fill="#000" />
<rect x="695.7" y="400.4" width="50.9" height="8.3" fill="#000" />
<rect x="777.0" y="96.7" width="1.6" height="132.3" fill="#25cc3e" />
<rect x="770.0" y="96.7" width="8.6" height="1.6" fill="#25cc3e" />
<rect x="770.0" y="104.0" width="8.6" height="1.6" fill="#25cc3e" />
<rect x="770.0" y="111.3" width="8.6" height="1.6" fill="#25cc3e" />
<rect x="770.0" y="118.6" width="8.6" height="1.6" fill="#25cc3e" />
<rect x="770.0" y="125.9" width="8.6" height="1.6" fill="#25cc3e" />
<rect x="770.0" y="133.2" width="8.6" height="1.6" fill="#25cc3e" />
<rect x="770.0" y="140.5" width="8.6" height="1.6" fill="#25cc3e" />
<rect x="770.0" y="147.8" width="8.6" height="1.6" fill="#25cc3e" />
<rect x="770.0" y="155.1" width="8.6" height="1.6" fill="#25cc3e" />
<rect x="770.0" y="162.4" width="8.6" height="1.6" fill="#25cc3e" />
<rect x="770.0" y="169.7" width="8.6" height="1.6" fill="#25cc3e" />
<rect x="770.0" y="177.0" width="8.6" height="1.6" fill="#25cc3e" />
<rect x="770.0" y="184.3" width="8.6" height="1.6" fill="#25cc3e" />
<rect x="770.0" y="191.6" width="8.6" height="1.6" fill="#25cc3e" />
<rect x="770.0" y="198.9" width="8.6" height="1.6" fill="#25cc3e" />
<rect x="770.0" y="206.2" width="8.6" height="1.6" fill="#25cc3e" />
<rect x="770.0" y="213.5" width="8.6" height="1.6" fill="#25cc3e" />
<rect x="770.0" y="220.8" width="8.6" height="1.6" fill="#25cc3e" />
<rect x="782.4" y="97.5" width="25.1" height="8.6" fill="none" stroke="#25cc3e" stroke-width="1.5"/>
<rect x="808.2" y="99.5" width="2.8" height="4.4" fill="#25cc3e" />
<polygon points="785.98,99.50 791.39,99.50 789.81,104.00 784.40,104.00" fill="#25cc3e"/>
<polygon points="793.38,99.50 798.79,99.50 797.21,104.00 791.80,104.00" fill="#25cc3e"/>
<polygon points="800.78,99.50 806.19,99.50 804.61,104.00 799.20,104.00" fill="#25cc3e"/>
<text x="782.6" y="131.0" font-size="22" fill="#2fd34a" stroke="#2fd34a" stroke-width="0.4" stroke-linejoin="round" font-weight="bold" textLength="24.7" lengthAdjust="spacingAndGlyphs">1.5</text>
<text x="782.6" y="163.4" font-size="22" fill="#2fd34a" stroke="#2fd34a" stroke-width="0.4" stroke-linejoin="round" font-weight="bold" textLength="24.7" lengthAdjust="spacingAndGlyphs">1.4</text>
<text x="782.6" y="195.8" font-size="22" fill="#2fd34a" stroke="#2fd34a" stroke-width="0.4" stroke-linejoin="round" font-weight="bold" textLength="24.7" lengthAdjust="spacingAndGlyphs">1.3</text>
<text x="782.6" y="228.2" font-size="22" fill="#2fd34a" stroke="#2fd34a" stroke-width="0.4" stroke-linejoin="round" font-weight="bold" textLength="24.7" lengthAdjust="spacingAndGlyphs">1.2</text>
<rect x="777.0" y="242.8" width="1.6" height="95.2" fill="#f5f1a0" />
<rect x="770.0" y="242.8" width="8.6" height="1.6" fill="#f5f1a0" />
<rect x="770.0" y="250.1" width="8.6" height="1.6" fill="#f5f1a0" />
<rect x="770.0" y="257.4" width="8.6" height="1.6" fill="#f5f1a0" />
<rect x="770.0" y="264.7" width="8.6" height="1.6" fill="#f5f1a0" />
<rect x="770.0" y="272.0" width="8.6" height="1.6" fill="#f5f1a0" />
<rect x="770.0" y="279.3" width="8.6" height="1.6" fill="#f5f1a0" />
<rect x="770.0" y="286.6" width="8.6" height="1.6" fill="#f5f1a0" />
<rect x="770.0" y="293.9" width="8.6" height="1.6" fill="#f5f1a0" />
<rect x="770.0" y="301.2" width="8.6" height="1.6" fill="#f5f1a0" />
<rect x="770.0" y="308.5" width="8.6" height="1.6" fill="#f5f1a0" />
<rect x="770.0" y="315.8" width="8.6" height="1.6" fill="#f5f1a0" />
<rect x="770.0" y="323.1" width="8.6" height="1.6" fill="#f5f1a0" />
<rect x="770.0" y="330.4" width="8.6" height="1.6" fill="#f5f1a0" />
<rect x="782.4" y="244.7" width="23.9" height="6.8" fill="none" stroke="#f5f1a0" stroke-width="1.5"/>
<rect x="807.0" y="246.2" width="2.8" height="3.7" fill="#f5f1a0" />
<polygon points="785.34,246.70 790.67,246.70 789.73,249.40 784.40,249.40" fill="#f5f1a0"/>
<polygon points="792.34,246.70 797.67,246.70 796.73,249.40 791.40,249.40" fill="#f5f1a0"/>
<text x="782.6" y="275.6" font-size="22" fill="#f3ef9a" stroke="#f3ef9a" stroke-width="0.6" stroke-linejoin="round" textLength="24.7" lengthAdjust="spacingAndGlyphs">1.1</text>
<text x="782.6" y="307.0" font-size="22" fill="#f3ef9a" stroke="#f3ef9a" stroke-width="0.6" stroke-linejoin="round" textLength="24.7" lengthAdjust="spacingAndGlyphs">1.0</text>
<text x="782.6" y="338.3" font-size="22" fill="#f3ef9a" stroke="#f3ef9a" stroke-width="0.6" stroke-linejoin="round" textLength="24.7" lengthAdjust="spacingAndGlyphs">0.9</text>
<rect x="777.0" y="351.8" width="1.6" height="58.6" fill="#f29a9a" />
<rect x="770.0" y="351.8" width="8.6" height="1.6" fill="#f29a9a" />
<rect x="770.0" y="359.1" width="8.6" height="1.6" fill="#f29a9a" />
<rect x="770.0" y="366.4" width="8.6" height="1.6" fill="#f29a9a" />
<rect x="770.0" y="373.7" width="8.6" height="1.6" fill="#f29a9a" />
<rect x="770.0" y="381.0" width="8.6" height="1.6" fill="#f29a9a" />
<rect x="770.0" y="388.3" width="8.6" height="1.6" fill="#f29a9a" />
<rect x="770.0" y="395.6" width="8.6" height="1.6" fill="#f29a9a" />
<rect x="770.0" y="402.9" width="8.6" height="1.6" fill="#f29a9a" />
<rect x="782.2" y="403.6" width="21.4" height="6.2" fill="none" stroke="#f29a9a" stroke-width="1.2"/>
<rect x="804.2" y="405.1" width="2.8" height="3.3" fill="#f29a9a" />
<polygon points="784.94,405.50 789.59,405.50 788.75,407.90 784.10,407.90" fill="#f29a9a"/>
<text x="782.6" y="367.5" font-size="22" fill="#8a8a8a" stroke="#8a8a8a" stroke-width="0.6" stroke-linejoin="round" textLength="25.0" lengthAdjust="spacingAndGlyphs">0.8</text>
<text x="782.6" y="395.8" font-size="22" fill="#8a8a8a" stroke="#8a8a8a" stroke-width="0.6" stroke-linejoin="round" textLength="25.0" lengthAdjust="spacingAndGlyphs">0.7</text>
<text x="772.5" y="429.3" font-size="14.5" fill="#f29a9a" font-weight="bold" textLength="34.8" lengthAdjust="spacingAndGlyphs">LOW</text>
<text x="861.8" y="42.7" font-size="20.5" fill="#111" font-weight="bold" textLength="26.8" lengthAdjust="spacingAndGlyphs">9V</text>
<text x="856.5" y="55.2" font-size="9" fill="#111" font-weight="bold" textLength="37.7" lengthAdjust="spacingAndGlyphs">BATTERY</text>
<text x="1002.0" y="42.7" font-size="20.5" fill="#111" font-weight="bold" textLength="41.0" lengthAdjust="spacingAndGlyphs">1.5V</text>
<text x="1002.5" y="55.2" font-size="9" fill="#111" font-weight="bold" textLength="37.8" lengthAdjust="spacingAndGlyphs">BATTERY</text>
<text x="856.5" y="87.9" font-size="12.5" fill="#9be3aa" font-weight="bold" textLength="38.8" lengthAdjust="spacingAndGlyphs">GOOD</text>
<text x="1004.6" y="87.9" font-size="12.5" fill="#9be3aa" font-weight="bold" textLength="39.4" lengthAdjust="spacingAndGlyphs">GOOD</text>
<rect x="867.6" y="92.0" width="17.2" height="4.7" fill="#9be3aa" />
<rect x="862.2" y="97.6" width="27.9" height="133.8" fill="none" stroke="#9be3aa" stroke-width="1.8"/>
<rect x="863.8" y="99.9" width="24.7" height="31.9" fill="#a6e6b3" />
<text x="864.3" y="122.1" font-size="17.5" fill="#8a8a8a" stroke="#8a8a8a" stroke-width="0.6" stroke-linejoin="round" textLength="23.2" lengthAdjust="spacingAndGlyphs">9.0</text>
<rect x="863.8" y="133.1" width="24.7" height="31.9" fill="#a6e6b3" />
<text x="864.3" y="155.3" font-size="17.5" fill="#8a8a8a" stroke="#8a8a8a" stroke-width="0.6" stroke-linejoin="round" textLength="23.2" lengthAdjust="spacingAndGlyphs">8.1</text>
<rect x="863.8" y="166.3" width="24.7" height="31.9" fill="#a6e6b3" />
<text x="864.3" y="188.5" font-size="17.5" fill="#8a8a8a" stroke="#8a8a8a" stroke-width="0.6" stroke-linejoin="round" textLength="23.2" lengthAdjust="spacingAndGlyphs">7.2</text>
<rect x="863.8" y="199.5" width="24.7" height="31.9" fill="#a6e6b3" />
<text x="864.3" y="221.7" font-size="17.5" fill="#8a8a8a" stroke="#8a8a8a" stroke-width="0.6" stroke-linejoin="round" textLength="23.2" lengthAdjust="spacingAndGlyphs">6.3</text>
<rect x="891.5" y="103.0" width="5.5" height="2.0" fill="#9be3aa" />
<rect x="891.5" y="113.7" width="5.5" height="2.0" fill="#9be3aa" />
<rect x="891.5" y="124.4" width="5.5" height="2.0" fill="#9be3aa" />
<rect x="891.5" y="135.1" width="5.5" height="2.0" fill="#9be3aa" />
<rect x="891.5" y="145.8" width="5.5" height="2.0" fill="#9be3aa" />
<rect x="891.5" y="156.5" width="5.5" height="2.0" fill="#9be3aa" />
<rect x="891.5" y="167.2" width="5.5" height="2.0" fill="#9be3aa" />
<rect x="891.5" y="177.9" width="5.5" height="2.0" fill="#9be3aa" />
<rect x="891.5" y="188.6" width="5.5" height="2.0" fill="#9be3aa" />
<rect x="891.5" y="199.3" width="5.5" height="2.0" fill="#9be3aa" />
<rect x="891.5" y="210.0" width="5.5" height="2.0" fill="#9be3aa" />
<rect x="891.5" y="220.7" width="5.5" height="2.0" fill="#9be3aa" />
<rect x="891.5" y="231.4" width="5.5" height="2.0" fill="#9be3aa" />
<rect x="867.6" y="237.0" width="17.2" height="3.7" fill="#f0e800" />
<rect x="862.2" y="241.6" width="27.9" height="61.7" fill="none" stroke="#f0e800" stroke-width="1.8"/>
<rect x="863.8" y="272.5" width="24.7" height="29.5" fill="#f8ee00" />
<text x="864.3" y="263.4" font-size="17.5" fill="#111" stroke="#111" stroke-width="0.4" stroke-linejoin="round" font-weight="bold" textLength="23.2" lengthAdjust="spacingAndGlyphs">5.4</text>
<text x="864.3" y="296.6" font-size="17.5" fill="#111" stroke="#111" stroke-width="0.4" stroke-linejoin="round" font-weight="bold" textLength="23.2" lengthAdjust="spacingAndGlyphs">4.5</text>
<rect x="891.5" y="243.0" width="5.5" height="2.0" fill="#f0e800" />
<rect x="891.5" y="253.7" width="5.5" height="2.0" fill="#f0e800" />
<rect x="891.5" y="264.4" width="5.5" height="2.0" fill="#f0e800" />
<rect x="891.5" y="275.1" width="5.5" height="2.0" fill="#f0e800" />
<rect x="891.5" y="285.8" width="5.5" height="2.0" fill="#f0e800" />
<rect x="891.5" y="296.5" width="5.5" height="2.0" fill="#f0e800" />
<rect x="867.6" y="308.4" width="17.2" height="4.2" fill="#f29a9a" />
<rect x="862.2" y="313.5" width="27.9" height="96.6" fill="none" stroke="#f29a9a" stroke-width="1.8"/>
<rect x="863.8" y="347.8" width="24.7" height="1.6" fill="#f29a9a" />
<rect x="863.8" y="383.2" width="24.7" height="24.4" fill="#f29a9a" />
<text x="864.3" y="338.8" font-size="17.5" fill="#8a8a8a" stroke="#8a8a8a" stroke-width="0.6" stroke-linejoin="round" textLength="23.2" lengthAdjust="spacingAndGlyphs">3.6</text>
<text x="864.3" y="373.8" font-size="17.5" fill="#8a8a8a" stroke="#8a8a8a" stroke-width="0.6" stroke-linejoin="round" textLength="23.2" lengthAdjust="spacingAndGlyphs">2.7</text>
<text x="864.3" y="402.6" font-size="17.5" fill="#fff" stroke="#fff" stroke-width="0.4" stroke-linejoin="round" font-weight="bold" textLength="23.2" lengthAdjust="spacingAndGlyphs">1.8</text>
<rect x="891.5" y="318.0" width="5.5" height="2.0" fill="#f29a9a" />
<rect x="891.5" y="328.7" width="5.5" height="2.0" fill="#f29a9a" />
<rect x="891.5" y="339.4" width="5.5" height="2.0" fill="#f29a9a" />
<rect x="891.5" y="350.1" width="5.5" height="2.0" fill="#f29a9a" />
<rect x="891.5" y="360.8" width="5.5" height="2.0" fill="#f29a9a" />
<rect x="891.5" y="371.5" width="5.5" height="2.0" fill="#f29a9a" />
<rect x="891.5" y="382.2" width="5.5" height="2.0" fill="#f29a9a" />
<rect x="891.5" y="392.9" width="5.5" height="2.0" fill="#f29a9a" />
<rect x="891.5" y="403.6" width="5.5" height="2.0" fill="#f29a9a" />
<text x="860.0" y="429.3" font-size="14.5" fill="#f29a9a" font-weight="bold" textLength="34.2" lengthAdjust="spacingAndGlyphs">LOW</text>
<path d="M913.3,416.5 V114.3 H929 V94.4 H973 V114.3 H988.3 V416.5 Z" fill="none" stroke="#000" stroke-width="4.6"/>
<rect x="925.7" y="279.6" width="50.9" height="8.3" fill="#000" />
<rect x="925.7" y="296.9" width="50.9" height="8.3" fill="#000" />
<rect x="925.7" y="314.1" width="50.9" height="8.3" fill="#000" />
<rect x="925.7" y="331.4" width="50.9" height="8.3" fill="#000" />
<rect x="925.7" y="348.6" width="50.9" height="8.3" fill="#000" />
<rect x="925.7" y="365.9" width="50.9" height="8.3" fill="#000" />
<rect x="925.7" y="383.1" width="50.9" height="8.3" fill="#000" />
<rect x="925.7" y="400.4" width="50.9" height="8.3" fill="#000" />
<rect x="1007.0" y="96.7" width="1.6" height="132.3" fill="#9be3aa" />
<rect x="1000.0" y="96.7" width="8.6" height="1.6" fill="#9be3aa" />
<rect x="1000.0" y="104.0" width="8.6" height="1.6" fill="#9be3aa" />
<rect x="1000.0" y="111.3" width="8.6" height="1.6" fill="#9be3aa" />
<rect x="1000.0" y="118.6" width="8.6" height="1.6" fill="#9be3aa" />
<rect x="1000.0" y="125.9" width="8.6" height="1.6" fill="#9be3aa" />
<rect x="1000.0" y="133.2" width="8.6" height="1.6" fill="#9be3aa" />
<rect x="1000.0" y="140.5" width="8.6" height="1.6" fill="#9be3aa" />
<rect x="1000.0" y="147.8" width="8.6" height="1.6" fill="#9be3aa" />
<rect x="1000.0" y="155.1" width="8.6" height="1.6" fill="#9be3aa" />
<rect x="1000.0" y="162.4" width="8.6" height="1.6" fill="#9be3aa" />
<rect x="1000.0" y="169.7" width="8.6" height="1.6" fill="#9be3aa" />
<rect x="1000.0" y="177.0" width="8.6" height="1.6" fill="#9be3aa" />
<rect x="1000.0" y="184.3" width="8.6" height="1.6" fill="#9be3aa" />
<rect x="1000.0" y="191.6" width="8.6" height="1.6" fill="#9be3aa" />
<rect x="1000.0" y="198.9" width="8.6" height="1.6" fill="#9be3aa" />
<rect x="1000.0" y="206.2" width="8.6" height="1.6" fill="#9be3aa" />
<rect x="1000.0" y="213.5" width="8.6" height="1.6" fill="#9be3aa" />
<rect x="1000.0" y="220.8" width="8.6" height="1.6" fill="#9be3aa" />
<rect x="1012.4" y="97.5" width="25.1" height="8.6" fill="none" stroke="#9be3aa" stroke-width="1.5"/>
<rect x="1038.2" y="99.5" width="2.8" height="4.4" fill="#9be3aa" />
<polygon points="1015.98,99.50 1021.39,99.50 1019.81,104.00 1014.40,104.00" fill="#9be3aa"/>
<polygon points="1023.38,99.50 1028.79,99.50 1027.21,104.00 1021.80,104.00" fill="#9be3aa"/>
<polygon points="1030.78,99.50 1036.19,99.50 1034.61,104.00 1029.20,104.00" fill="#9be3aa"/>
<text x="1012.6" y="131.0" font-size="22" fill="#a2e4b0" stroke="#a2e4b0" stroke-width="0.6" stroke-linejoin="round" textLength="24.7" lengthAdjust="spacingAndGlyphs">1.5</text>
<text x="1012.6" y="163.4" font-size="22" fill="#a2e4b0" stroke="#a2e4b0" stroke-width="0.6" stroke-linejoin="round" textLength="24.7" lengthAdjust="spacingAndGlyphs">1.4</text>
<text x="1012.6" y="195.8" font-size="22" fill="#a2e4b0" stroke="#a2e4b0" stroke-width="0.6" stroke-linejoin="round" textLength="24.7" lengthAdjust="spacingAndGlyphs">1.3</text>
<text x="1012.6" y="228.2" font-size="22" fill="#a2e4b0" stroke="#a2e4b0" stroke-width="0.6" stroke-linejoin="round" textLength="24.7" lengthAdjust="spacingAndGlyphs">1.2</text>
<rect x="1007.0" y="242.8" width="1.6" height="95.2" fill="#f0e800" />
<rect x="1000.0" y="242.8" width="8.6" height="1.6" fill="#f0e800" />
<rect x="1000.0" y="250.1" width="8.6" height="1.6" fill="#f0e800" />
<rect x="1000.0" y="257.4" width="8.6" height="1.6" fill="#f0e800" />
<rect x="1000.0" y="264.7" width="8.6" height="1.6" fill="#f0e800" />
<rect x="1000.0" y="272.0" width="8.6" height="1.6" fill="#f0e800" />
<rect x="1000.0" y="279.3" width="8.6" height="1.6" fill="#f0e800" />
<rect x="1000.0" y="286.6" width="8.6" height="1.6" fill="#f0e800" />
<rect x="1000.0" y="293.9" width="8.6" height="1.6" fill="#f0e800" />
<rect x="1000.0" y="301.2" width="8.6" height="1.6" fill="#f0e800" />
<rect x="1000.0" y="308.5" width="8.6" height="1.6" fill="#f0e800" />
<rect x="1000.0" y="315.8" width="8.6" height="1.6" fill="#f0e800" />
<rect x="1000.0" y="323.1" width="8.6" height="1.6" fill="#f0e800" />
<rect x="1000.0" y="330.4" width="8.6" height="1.6" fill="#f0e800" />
<rect x="1012.4" y="244.7" width="23.9" height="6.8" fill="none" stroke="#f0e800" stroke-width="1.5"/>
<rect x="1037.0" y="246.2" width="2.8" height="3.7" fill="#f0e800" />
<polygon points="1015.34,246.70 1020.67,246.70 1019.73,249.40 1014.40,249.40" fill="#f0e800"/>
<polygon points="1022.34,246.70 1027.67,246.70 1026.73,249.40 1021.40,249.40" fill="#f0e800"/>
<text x="1012.6" y="275.6" font-size="22" fill="#ebe30c" stroke="#ebe30c" stroke-width="0.4" stroke-linejoin="round" font-weight="bold" textLength="24.7" lengthAdjust="spacingAndGlyphs">1.1</text>
<text x="1012.6" y="307.0" font-size="22" fill="#ebe30c" stroke="#ebe30c" stroke-width="0.4" stroke-linejoin="round" font-weight="bold" textLength="24.7" lengthAdjust="spacingAndGlyphs">1.0</text>
<text x="1012.6" y="338.3" font-size="22" fill="#ebe30c" stroke="#ebe30c" stroke-width="0.4" stroke-linejoin="round" font-weight="bold" textLength="24.7" lengthAdjust="spacingAndGlyphs">0.9</text>
<rect x="1007.0" y="351.8" width="1.6" height="58.6" fill="#f29a9a" />
<rect x="1000.0" y="351.8" width="8.6" height="1.6" fill="#f29a9a" />
<rect x="1000.0" y="359.1" width="8.6" height="1.6" fill="#f29a9a" />
<rect x="1000.0" y="366.4" width="8.6" height="1.6" fill="#f29a9a" />
<rect x="1000.0" y="373.7" width="8.6" height="1.6" fill="#f29a9a" />
<rect x="1000.0" y="381.0" width="8.6" height="1.6" fill="#f29a9a" />
<rect x="1000.0" y="388.3" width="8.6" height="1.6" fill="#f29a9a" />
<rect x="1000.0" y="395.6" width="8.6" height="1.6" fill="#f29a9a" />
<rect x="1000.0" y="402.9" width="8.6" height="1.6" fill="#f29a9a" />
<rect x="1012.2" y="403.6" width="21.4" height="6.2" fill="none" stroke="#f29a9a" stroke-width="1.2"/>
<rect x="1034.2" y="405.1" width="2.8" height="3.3" fill="#f29a9a" />
<polygon points="1014.94,405.50 1019.59,405.50 1018.75,407.90 1014.10,407.90" fill="#f29a9a"/>
<text x="1012.6" y="367.5" font-size="22" fill="#8a8a8a" stroke="#8a8a8a" stroke-width="0.6" stroke-linejoin="round" textLength="25.0" lengthAdjust="spacingAndGlyphs">0.8</text>
<text x="1012.6" y="395.8" font-size="22" fill="#8a8a8a" stroke="#8a8a8a" stroke-width="0.6" stroke-linejoin="round" textLength="25.0" lengthAdjust="spacingAndGlyphs">0.7</text>
<text x="1002.5" y="429.3" font-size="14.5" fill="#f29a9a" font-weight="bold" textLength="34.8" lengthAdjust="spacingAndGlyphs">LOW</text>
<text x="744.3" y="557.7" font-size="20.5" fill="#111" font-weight="bold" textLength="26.8" lengthAdjust="spacingAndGlyphs">9V</text>
<text x="739.0" y="570.2" font-size="9" fill="#111" font-weight="bold" textLength="37.7" lengthAdjust="spacingAndGlyphs">BATTERY</text>
<text x="884.5" y="557.7" font-size="20.5" fill="#111" font-weight="bold" textLength="41.0" lengthAdjust="spacingAndGlyphs">1.5V</text>
<text x="885.0" y="570.2" font-size="9" fill="#111" font-weight="bold" textLength="37.8" lengthAdjust="spacingAndGlyphs">BATTERY</text>
<text x="739.0" y="602.9" font-size="12.5" fill="#9be3aa" font-weight="bold" textLength="38.8" lengthAdjust="spacingAndGlyphs">GOOD</text>
<text x="887.1" y="602.9" font-size="12.5" fill="#9be3aa" font-weight="bold" textLength="39.4" lengthAdjust="spacingAndGlyphs">GOOD</text>
<rect x="750.1" y="607.0" width="17.2" height="4.7" fill="#9be3aa" />
<rect x="744.7" y="612.6" width="27.9" height="133.8" fill="none" stroke="#9be3aa" stroke-width="1.8"/>
<rect x="746.3" y="614.9" width="24.7" height="31.9" fill="#a6e6b3" />
<text x="746.8" y="637.1" font-size="17.5" fill="#8a8a8a" stroke="#8a8a8a" stroke-width="0.6" stroke-linejoin="round" textLength="23.2" lengthAdjust="spacingAndGlyphs">9.0</text>
<rect x="746.3" y="648.1" width="24.7" height="31.9" fill="#a6e6b3" />
<text x="746.8" y="670.3" font-size="17.5" fill="#8a8a8a" stroke="#8a8a8a" stroke-width="0.6" stroke-linejoin="round" textLength="23.2" lengthAdjust="spacingAndGlyphs">8.1</text>
<rect x="746.3" y="681.3" width="24.7" height="31.9" fill="#a6e6b3" />
<text x="746.8" y="703.5" font-size="17.5" fill="#8a8a8a" stroke="#8a8a8a" stroke-width="0.6" stroke-linejoin="round" textLength="23.2" lengthAdjust="spacingAndGlyphs">7.2</text>
<rect x="746.3" y="714.5" width="24.7" height="31.9" fill="#a6e6b3" />
<text x="746.8" y="736.7" font-size="17.5" fill="#8a8a8a" stroke="#8a8a8a" stroke-width="0.6" stroke-linejoin="round" textLength="23.2" lengthAdjust="spacingAndGlyphs">6.3</text>
<rect x="774.0" y="618.0" width="5.5" height="2.0" fill="#9be3aa" />
<rect x="774.0" y="628.7" width="5.5" height="2.0" fill="#9be3aa" />
<rect x="774.0" y="639.4" width="5.5" height="2.0" fill="#9be3aa" />
<rect x="774.0" y="650.1" width="5.5" height="2.0" fill="#9be3aa" />
<rect x="774.0" y="660.8" width="5.5" height="2.0" fill="#9be3aa" />
<rect x="774.0" y="671.5" width="5.5" height="2.0" fill="#9be3aa" />
<rect x="774.0" y="682.2" width="5.5" height="2.0" fill="#9be3aa" />
<rect x="774.0" y="692.9" width="5.5" height="2.0" fill="#9be3aa" />
<rect x="774.0" y="703.6" width="5.5" height="2.0" fill="#9be3aa" />
<rect x="774.0" y="714.3" width="5.5" height="2.0" fill="#9be3aa" />
<rect x="774.0" y="725.0" width="5.5" height="2.0" fill="#9be3aa" />
<rect x="774.0" y="735.7" width="5.5" height="2.0" fill="#9be3aa" />
<rect x="774.0" y="746.4" width="5.5" height="2.0" fill="#9be3aa" />
<rect x="750.1" y="752.0" width="17.2" height="3.7" fill="#f5f1a0" />
<rect x="744.7" y="756.6" width="27.9" height="61.7" fill="none" stroke="#f5f1a0" stroke-width="1.8"/>
<rect x="746.3" y="787.5" width="24.7" height="29.5" fill="#f7f2a8" />
<text x="746.8" y="778.4" font-size="17.5" fill="#8a8a8a" stroke="#8a8a8a" stroke-width="0.6" stroke-linejoin="round" textLength="23.2" lengthAdjust="spacingAndGlyphs">5.4</text>
<text x="746.8" y="811.6" font-size="17.5" fill="#8a8a8a" stroke="#8a8a8a" stroke-width="0.6" stroke-linejoin="round" textLength="23.2" lengthAdjust="spacingAndGlyphs">4.5</text>
<rect x="774.0" y="758.0" width="5.5" height="2.0" fill="#f5f1a0" />
<rect x="774.0" y="768.7" width="5.5" height="2.0" fill="#f5f1a0" />
<rect x="774.0" y="779.4" width="5.5" height="2.0" fill="#f5f1a0" />
<rect x="774.0" y="790.1" width="5.5" height="2.0" fill="#f5f1a0" />
<rect x="774.0" y="800.8" width="5.5" height="2.0" fill="#f5f1a0" />
<rect x="774.0" y="811.5" width="5.5" height="2.0" fill="#f5f1a0" />
<rect x="750.1" y="823.4" width="17.2" height="4.2" fill="#e8141e" />
<rect x="744.7" y="828.5" width="27.9" height="96.6" fill="none" stroke="#e8141e" stroke-width="1.8"/>
<rect x="746.3" y="862.8" width="24.7" height="1.6" fill="#e8141e" />
<rect x="746.3" y="898.2" width="24.7" height="24.4" fill="#e8141e" />
<text x="746.8" y="853.8" font-size="17.5" fill="#111" stroke="#111" stroke-width="0.4" stroke-linejoin="round" font-weight="bold" textLength="23.2" lengthAdjust="spacingAndGlyphs">3.6</text>
<text x="746.8" y="888.8" font-size="17.5" fill="#111" stroke="#111" stroke-width="0.4" stroke-linejoin="round" font-weight="bold" textLength="23.2" lengthAdjust="spacingAndGlyphs">2.7</text>
<text x="746.8" y="917.6" font-size="17.5" fill="#fff" stroke="#fff" stroke-width="0.4" stroke-linejoin="round" font-weight="bold" textLength="23.2" lengthAdjust="spacingAndGlyphs">1.8</text>
<rect x="774.0" y="833.0" width="5.5" height="2.0" fill="#e8141e" />
<rect x="774.0" y="843.7" width="5.5" height="2.0" fill="#e8141e" />
<rect x="774.0" y="854.4" width="5.5" height="2.0" fill="#e8141e" />
<rect x="774.0" y="865.1" width="5.5" height="2.0" fill="#e8141e" />
<rect x="774.0" y="875.8" width="5.5" height="2.0" fill="#e8141e" />
<rect x="774.0" y="886.5" width="5.5" height="2.0" fill="#e8141e" />
<rect x="774.0" y="897.2" width="5.5" height="2.0" fill="#e8141e" />
<rect x="774.0" y="907.9" width="5.5" height="2.0" fill="#e8141e" />
<rect x="774.0" y="918.6" width="5.5" height="2.0" fill="#e8141e" />
<text x="742.5" y="944.3" font-size="14.5" fill="#e01818" font-weight="bold" textLength="34.2" lengthAdjust="spacingAndGlyphs">LOW</text>
<path d="M793.5999999999999,930.7 V628.5 H809.3 V608.6 H853.3 V628.5 H868.5999999999999 V930.7 Z" fill="none" stroke="#000" stroke-width="4.6"/>
<rect x="806.0" y="897.4" width="50.9" height="8.3" fill="#000" />
<rect x="806.0" y="914.6" width="50.9" height="8.3" fill="#000" />
<rect x="889.5" y="611.7" width="1.6" height="132.3" fill="#9be3aa" />
<rect x="882.5" y="611.7" width="8.6" height="1.6" fill="#9be3aa" />
<rect x="882.5" y="619.0" width="8.6" height="1.6" fill="#9be3aa" />
<rect x="882.5" y="626.3" width="8.6" height="1.6" fill="#9be3aa" />
<rect x="882.5" y="633.6" width="8.6" height="1.6" fill="#9be3aa" />
<rect x="882.5" y="640.9" width="8.6" height="1.6" fill="#9be3aa" />
<rect x="882.5" y="648.2" width="8.6" height="1.6" fill="#9be3aa" />
<rect x="882.5" y="655.5" width="8.6" height="1.6" fill="#9be3aa" />
<rect x="882.5" y="662.8" width="8.6" height="1.6" fill="#9be3aa" />
<rect x="882.5" y="670.1" width="8.6" height="1.6" fill="#9be3aa" />
<rect x="882.5" y="677.4" width="8.6" height="1.6" fill="#9be3aa" />
<rect x="882.5" y="684.7" width="8.6" height="1.6" fill="#9be3aa" />
<rect x="882.5" y="692.0" width="8.6" height="1.6" fill="#9be3aa" />
<rect x="882.5" y="699.3" width="8.6" height="1.6" fill="#9be3aa" />
<rect x="882.5" y="706.6" width="8.6" height="1.6" fill="#9be3aa" />
<rect x="882.5" y="713.9" width="8.6" height="1.6" fill="#9be3aa" />
<rect x="882.5" y="721.2" width="8.6" height="1.6" fill="#9be3aa" />
<rect x="882.5" y="728.5" width="8.6" height="1.6" fill="#9be3aa" />
<rect x="882.5" y="735.8" width="8.6" height="1.6" fill="#9be3aa" />
<rect x="894.9" y="612.5" width="25.1" height="8.6" fill="none" stroke="#9be3aa" stroke-width="1.5"/>
<rect x="920.7" y="614.5" width="2.8" height="4.4" fill="#9be3aa" />
<polygon points="898.48,614.50 903.89,614.50 902.31,619.00 896.90,619.00" fill="#9be3aa"/>
<polygon points="905.88,614.50 911.29,614.50 909.71,619.00 904.30,619.00" fill="#9be3aa"/>
<polygon points="913.28,614.50 918.69,614.50 917.11,619.00 911.70,619.00" fill="#9be3aa"/>
<text x="895.1" y="646.0" font-size="22" fill="#a2e4b0" stroke="#a2e4b0" stroke-width="0.6" stroke-linejoin="round" textLength="24.7" lengthAdjust="spacingAndGlyphs">1.5</text>
<text x="895.1" y="678.4" font-size="22" fill="#a2e4b0" stroke="#a2e4b0" stroke-width="0.6" stroke-linejoin="round" textLength="24.7" lengthAdjust="spacingAndGlyphs">1.4</text>
<text x="895.1" y="710.8" font-size="22" fill="#a2e4b0" stroke="#a2e4b0" stroke-width="0.6" stroke-linejoin="round" textLength="24.7" lengthAdjust="spacingAndGlyphs">1.3</text>
<text x="895.1" y="743.2" font-size="22" fill="#a2e4b0" stroke="#a2e4b0" stroke-width="0.6" stroke-linejoin="round" textLength="24.7" lengthAdjust="spacingAndGlyphs">1.2</text>
<rect x="889.5" y="757.8" width="1.6" height="95.2" fill="#f5f1a0" />
<rect x="882.5" y="757.8" width="8.6" height="1.6" fill="#f5f1a0" />
<rect x="882.5" y="765.1" width="8.6" height="1.6" fill="#f5f1a0" />
<rect x="882.5" y="772.4" width="8.6" height="1.6" fill="#f5f1a0" />
<rect x="882.5" y="779.7" width="8.6" height="1.6" fill="#f5f1a0" />
<rect x="882.5" y="787.0" width="8.6" height="1.6" fill="#f5f1a0" />
<rect x="882.5" y="794.3" width="8.6" height="1.6" fill="#f5f1a0" />
<rect x="882.5" y="801.6" width="8.6" height="1.6" fill="#f5f1a0" />
<rect x="882.5" y="808.9" width="8.6" height="1.6" fill="#f5f1a0" />
<rect x="882.5" y="816.2" width="8.6" height="1.6" fill="#f5f1a0" />
<rect x="882.5" y="823.5" width="8.6" height="1.6" fill="#f5f1a0" />
<rect x="882.5" y="830.8" width="8.6" height="1.6" fill="#f5f1a0" />
<rect x="882.5" y="838.1" width="8.6" height="1.6" fill="#f5f1a0" />
<rect x="882.5" y="845.4" width="8.6" height="1.6" fill="#f5f1a0" />
<rect x="894.9" y="759.6" width="23.9" height="6.8" fill="none" stroke="#f5f1a0" stroke-width="1.5"/>
<rect x="919.5" y="761.2" width="2.8" height="3.7" fill="#f5f1a0" />
<polygon points="897.85,761.70 903.17,761.70 902.23,764.40 896.90,764.40" fill="#f5f1a0"/>
<polygon points="904.85,761.70 910.17,761.70 909.23,764.40 903.90,764.40" fill="#f5f1a0"/>
<text x="895.1" y="790.6" font-size="22" fill="#f3ef9a" stroke="#f3ef9a" stroke-width="0.6" stroke-linejoin="round" textLength="24.7" lengthAdjust="spacingAndGlyphs">1.1</text>
<text x="895.1" y="822.0" font-size="22" fill="#f3ef9a" stroke="#f3ef9a" stroke-width="0.6" stroke-linejoin="round" textLength="24.7" lengthAdjust="spacingAndGlyphs">1.0</text>
<text x="895.1" y="853.3" font-size="22" fill="#f3ef9a" stroke="#f3ef9a" stroke-width="0.6" stroke-linejoin="round" textLength="24.7" lengthAdjust="spacingAndGlyphs">0.9</text>
<rect x="889.5" y="866.8" width="1.6" height="58.6" fill="#e8141e" />
<rect x="882.5" y="866.8" width="8.6" height="1.6" fill="#e8141e" />
<rect x="882.5" y="874.1" width="8.6" height="1.6" fill="#e8141e" />
<rect x="882.5" y="881.4" width="8.6" height="1.6" fill="#e8141e" />
<rect x="882.5" y="888.7" width="8.6" height="1.6" fill="#e8141e" />
<rect x="882.5" y="896.0" width="8.6" height="1.6" fill="#e8141e" />
<rect x="882.5" y="903.3" width="8.6" height="1.6" fill="#e8141e" />
<rect x="882.5" y="910.6" width="8.6" height="1.6" fill="#e8141e" />
<rect x="882.5" y="917.9" width="8.6" height="1.6" fill="#e8141e" />
<rect x="894.7" y="918.6" width="21.4" height="6.2" fill="none" stroke="#e8141e" stroke-width="1.2"/>
<rect x="916.7" y="920.1" width="2.8" height="3.3" fill="#e8141e" />
<polygon points="897.44,920.50 902.09,920.50 901.25,922.90 896.60,922.90" fill="#e8141e"/>
<text x="895.1" y="882.5" font-size="22" fill="#111" stroke="#111" stroke-width="0.4" stroke-linejoin="round" font-weight="bold" textLength="25.0" lengthAdjust="spacingAndGlyphs">0.8</text>
<text x="895.1" y="910.8" font-size="22" fill="#111" stroke="#111" stroke-width="0.4" stroke-linejoin="round" font-weight="bold" textLength="25.0" lengthAdjust="spacingAndGlyphs">0.7</text>
<text x="885.0" y="944.3" font-size="14.5" fill="#e01818" font-weight="bold" textLength="34.8" lengthAdjust="spacingAndGlyphs">LOW</text>
<rect x="621.2" y="438.5" width="198.8" height="75.1" rx="3" fill="#1ee23c"/>
<rect x="630.1" y="457.7" width="5.9" height="10.7" fill="#000"/>
<rect x="636.7" y="452.4" width="43.6" height="20.9" fill="none" stroke="#000" stroke-width="3.4"/>
<polygon points="640.0,455.7 654.3,455.7 648.8,470.0 640.0,470.0" fill="#000"/>
<polygon points="655.9,455.7 666.6,455.7 661.2,470.0 650.4,470.0" fill="#000"/>
<polygon points="668.2,455.7 677.0,455.7 677.0,470.0 662.8,470.0" fill="#000"/>
<text x="689.0" y="469.6" font-size="19.5" fill="#000" stroke="#000" stroke-width="0.6" stroke-linejoin="round" textLength="124.0" lengthAdjust="spacingAndGlyphs">Plenty of power</text>
<text x="631.3" y="491.9" font-size="12" fill="#000" font-weight="bold" textLength="181.7" lengthAdjust="spacingAndGlyphs">The battery level is green, and the</text>
<text x="631.3" y="505.0" font-size="12" fill="#000" font-weight="bold" textLength="106.6" lengthAdjust="spacingAndGlyphs">battery is sufficient .</text>
<rect x="850.6" y="438.5" width="199.4" height="76.7" rx="3" fill="#fbf500"/>
<rect x="859.3" y="458.5" width="5.6" height="10.6" fill="#000"/>
<rect x="865.6" y="453.2" width="40.7" height="20.6" fill="none" stroke="#000" stroke-width="3.4"/>
<polygon points="883.7,456.5 893.5,456.5 888.2,470.5 878.4,470.5" fill="#000"/>
<polygon points="895.1,456.5 903.0,456.5 903.0,470.5 889.8,470.5" fill="#000"/>
<text x="915.5" y="469.6" font-size="19.5" fill="#000" stroke="#000" stroke-width="0.6" stroke-linejoin="round" textLength="127.5" lengthAdjust="spacingAndGlyphs">The battery is Low</text>
<text x="866.4" y="499.0" font-size="12.5" fill="#000" font-weight="bold" textLength="174.6" lengthAdjust="spacingAndGlyphs">The battery level is low in yellow</text>
<rect x="614.5" y="954.5" width="436" height="73.5" rx="3" fill="#fe0f0f"/>
<rect x="650.6" y="974.9" width="7.1" height="13.2" fill="#000"/>
<rect x="658.9" y="968.3" width="54.3" height="25.9" fill="none" stroke="#000" stroke-width="4.2"/>
<polygon points="698.2,972.0 709.5,972.0 709.5,990.5 691.1,990.5" fill="#000"/>
<text x="724.9" y="991.7" font-size="32" fill="#000" stroke="#000" stroke-width="0.8" stroke-linejoin="round" textLength="298.0" lengthAdjust="spacingAndGlyphs">The battery is depleted</text>
<text x="653.8" y="1015.0" font-size="15" fill="#000" stroke="#000" stroke-width="0.5" stroke-linejoin="round" textLength="375.0" lengthAdjust="spacingAndGlyphs">The battery level is in red,and the battery is about to run out</text>
</svg>
</body></html>
